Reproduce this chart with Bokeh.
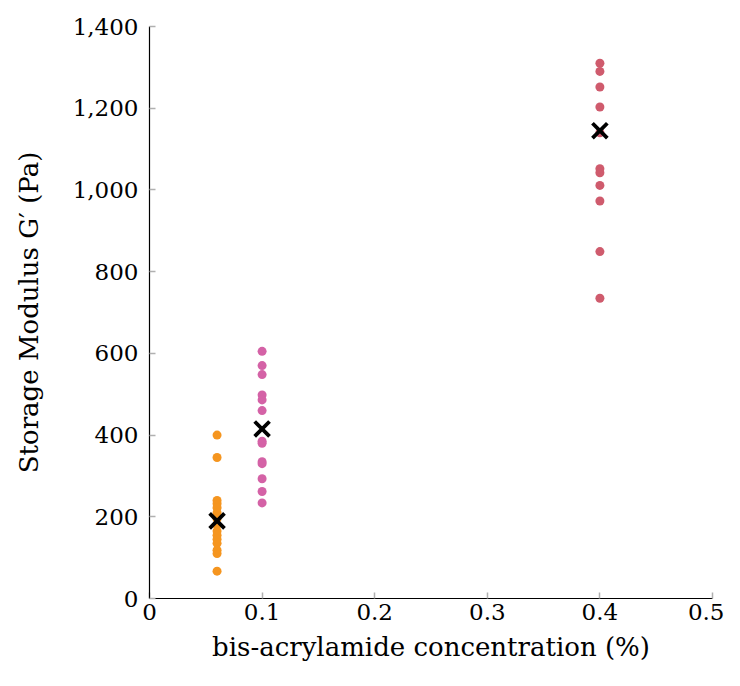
from bokeh.plotting import figure
from bokeh.models import FixedTicker, NumeralTickFormatter, CustomJSTickFormatter, Range1d
from bokeh.embed import file_html
from bokeh.resources import INLINE

# Data
x_orange = 0.06
g_orange = [400, 345, 240, 232, 222, 210, 195, 180, 165, 155, 145, 135, 118, 110, 67]
x_pink = 0.1
g_pink = [605, 570, 548, 498, 486, 460, 385, 380, 335, 330, 293, 262, 234]
x_red = 0.4
g_red = [1310, 1290, 1252, 1203, 1140, 1052, 1042, 1011, 973, 849, 735]
mean_x = [0.06, 0.1, 0.4]
mean_g = [190, 415, 1145]

x_ticks = [0, 0.1, 0.2, 0.3, 0.4, 0.5]
y_ticks = [0, 200, 400, 600, 800, 1000, 1200, 1400]

FONT = "DejaVu Serif"

p = figure(width=724, height=670, output_backend="svg", toolbar_location=None,
           x_range=Range1d(0, 0.5), y_range=Range1d(0, 1400),
           min_border_left=149, min_border_right=12, min_border_top=26, min_border_bottom=72)

p.scatter([x_orange] * len(g_orange), g_orange, size=9, color="#f5951f", line_color=None)
p.scatter([x_pink] * len(g_pink), g_pink, size=9, color="#d462a6", line_color=None)
p.scatter([x_red] * len(g_red), g_red, size=9, color="#cf5b6d", line_color=None)
p.scatter(mean_x, mean_g, marker="x", size=21, line_color="black", line_width=3.8)

p.xgrid.visible = False
p.ygrid.visible = False
p.outline_line_color = None

p.xaxis.ticker = FixedTicker(ticks=x_ticks)
p.yaxis.ticker = FixedTicker(ticks=y_ticks)
p.xaxis.formatter = CustomJSTickFormatter(code="return tick === 0 ? '0' : tick.toFixed(1);")
p.yaxis.formatter = NumeralTickFormatter(format="0,0")

for ax in (p.xaxis, p.yaxis):
    ax.axis_line_color = "black"
    ax.axis_line_width = 1.2
    ax.major_tick_in = 6
    ax.major_tick_out = 0
    ax.major_tick_line_color = "#b0b0b0"
    ax.major_tick_line_width = 1.5
    ax.minor_tick_line_color = None
    ax.major_label_text_font = FONT
    ax.major_label_text_font_size = "23px"
    ax.major_label_text_color = "black"
    ax.axis_label_text_font = FONT
    ax.axis_label_text_font_size = "26px"
    ax.axis_label_text_font_style = "normal"
    ax.axis_label_text_color = "black"

p.xaxis.axis_label = "bis-acrylamide concentration (%)"
p.yaxis.axis_label = "Storage Modulus G\u2032 (Pa)"
p.xaxis.major_label_standoff = 5
p.yaxis.major_label_standoff = 11
p.xaxis.axis_label_standoff = 9
p.yaxis.axis_label_standoff = 26

open("out.html", "w").write(file_html(p, INLINE))
